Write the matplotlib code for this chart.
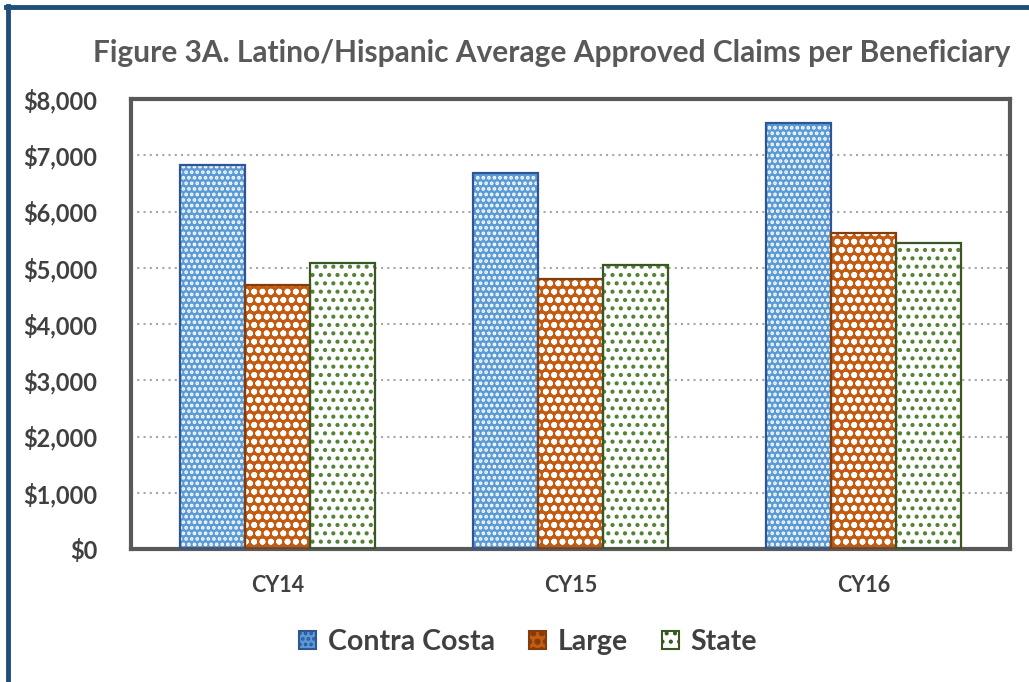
import numpy as np
import matplotlib
matplotlib.use('Agg')
import matplotlib.pyplot as plt
from matplotlib.patches import Patch
from matplotlib.lines import Line2D

plt.rcParams['font.family'] = ['Lato', 'DejaVu Sans']
plt.rcParams['hatch.linewidth'] = 1.8

years = ['CY14', 'CY15', 'CY16']
series = ['Contra Costa', 'Large', 'State']
contra_costa = [6830, 6685, 7570]
large = [4690, 4800, 5620]
state = [5085, 5050, 5440]
values = [contra_costa, large, state]

face = ['#5B9BD5', '#C55A11', '#FFFFFF']
hatch_col = ['#FFFFFF', '#FFFFFF', '#548235']
edge = ['#2F5597', '#843C0C', '#385723']
hatches = ['...', 'oo', '..']

fig = plt.figure(figsize=(10.29, 6.82), dpi=100)
ax = fig.add_axes([131 / 1029, 1 - 549 / 682, 879 / 1029, 450 / 682])

x = np.arange(len(years))
w = 0.222
for i, vals in enumerate(values):
    pos = x + (i - 1) * w
    ax.bar(pos, vals, w, color=face[i], hatch=hatches[i], edgecolor=hatch_col[i],
           linewidth=0, zorder=2)
    ax.bar(pos, vals, w, fill=False, edgecolor=edge[i], linewidth=1.6, zorder=3)

ax.set_xlim(-0.5, 2.5)
ax.set_ylim(0, 8000)
ax.set_yticks(np.arange(0, 8001, 1000))
ax.set_yticklabels(['${:,}'.format(v) for v in range(0, 8001, 1000)])
ax.set_xticks(x)
ax.set_xticklabels(years)
ax.tick_params(axis='y', length=0, pad=24, labelsize=17, labelcolor='#404040')
ax.tick_params(axis='x', length=0, pad=19, labelsize=15.5, labelcolor='#404040')
for lbl in ax.get_xticklabels() + ax.get_yticklabels():
    lbl.set_fontweight('bold')
ax.yaxis.grid(True, linestyle=(0, (1, 2)), color='#A6A6A6', linewidth=1.5, zorder=0)
ax.set_axisbelow(True)
for s in ax.spines.values():
    s.set_color('#595959')
    s.set_linewidth(3)

fig.text(0.536, 1 - 53 / 682, 'Figure 3A. Latino/Hispanic Average Approved Claims per Beneficiary',
         ha='center', va='center', fontsize=21.5, fontweight='bold', color='#595959')

handles = [Patch(facecolor=face[i], edgecolor=edge[i], hatch=hatches[i], linewidth=1.5)
           for i in range(3)]
fig.legend(handles, series, loc='center', bbox_to_anchor=(528 / 1029, 1 - 642 / 682), ncol=3,
           frameon=False, prop={'size': 20.5, 'weight': 'bold'}, handlelength=0.6,
           handleheight=0.6, handletextpad=0.4, columnspacing=1.2, labelcolor='#404040')

# outer border (left and top only)
fig.add_artist(Line2D([7.5 / 1029, 7.5 / 1029], [0, 1 - 6 / 682], color='#1F4E79', linewidth=3.5))
fig.add_artist(Line2D([6 / 1029, 1], [1 - 6.5 / 682, 1 - 6.5 / 682], color='#1F4E79', linewidth=3.5))

fig.savefig('out.png', dpi=100)
